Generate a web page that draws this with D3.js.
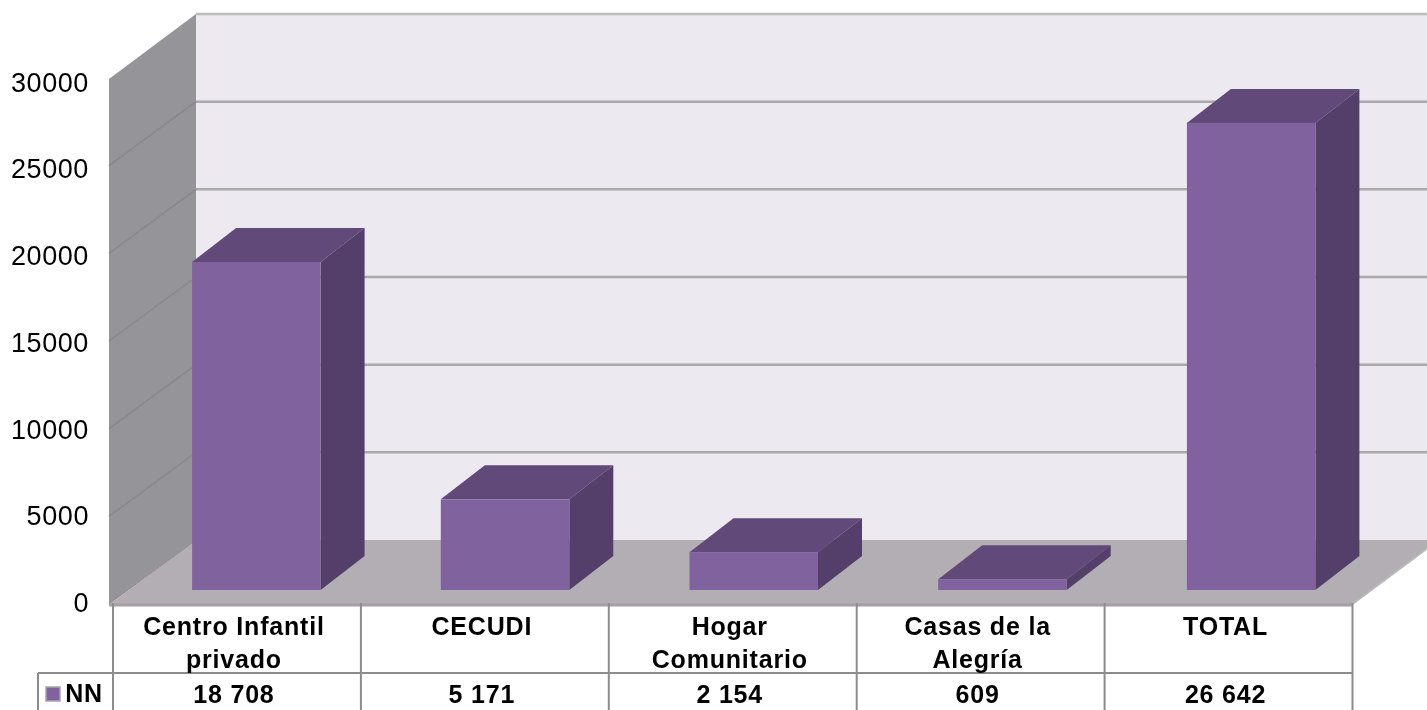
<!DOCTYPE html>
<html>
<head>
    <meta charset="utf-8">
    <script src="https://d3js.org/d3.v7.js"></script>
    <style>
        html, body{
            margin: 0;
            background: white;
            overflow: hidden;
        }
        svg{
            display: block;
            filter: blur(0.7px);
        }
        text{
            font-family: "Liberation Sans", Arial, sans-serif;
            fill: black;
        }
        .tick text{
            font-size: 27px;
            letter-spacing: 0.6px;
        }
        .cell{
            font-size: 25px;
            font-weight: bold;
            letter-spacing: 0.8px;
            text-anchor: middle;
        }
    </style>
</head>
<body>
    <div class="graph"></div>
    <script>
        const categories = [
            ['Centro Infantil', 'privado'],
            ['CECUDI'],
            ['Hogar', 'Comunitario'],
            ['Casas de la', 'Alegría'],
            ['TOTAL']
        ]
        const values = [18708, 5171, 2154, 609, 26642]
        const yTicks = [0, 5000, 10000, 15000, 20000, 25000, 30000]
        const seriesName = 'NN'

        const w = 1427
        const h = 710

        // front edge of the chart box, and how far the walls go back
        const left = 113
        const right = 1352.5
        const yFront = 604
        const depthX = 86
        const depthY = 64
        const wallTop = 78

        // bars stand a bit behind the front edge
        const barShiftX = 19
        const barBase = 590
        const barDepthX = 44
        const barDepthY = 34
        const barWidth = 128.5

        const xScale = d3.scaleBand()
                        .domain(d3.range(categories.length))
                        .range([left, right])

        // the bars step a little wider than the table cells
        const barScale = d3.scaleBand()
                        .domain(d3.range(categories.length))
                        .range([left, right + 4])

        const yScale = d3.scaleLinear()
                        .domain([0, 30000])
                        .range([yFront, wallTop])

        // the tick labels do not sit quite on the gridlines in the original
        const labelScale = d3.scaleLinear()
                        .domain([0, 30000])
                        .range([603, 82.5])

        const nf = d3.formatLocale({decimal: ',', thousands: ' ', grouping: [3], currency: ['', '']}).format(',')

        const svg = d3.select('.graph')
            .append('svg')
            .attr('width', w)
            .attr('height', h)

        const poly = pts => pts.map(p => p.join(',')).join(' ')

        // back wall
        svg.append('rect')
            .attr('x', left - 3 + depthX)
            .attr('y', yScale(30000) - depthY)
            .attr('width', w)
            .attr('height', yFront - yScale(30000))
            .style('fill', '#ECE9F1')

        // floor
        svg.append('polygon')
            .attr('points', poly([
                [left - 3, yFront], [right, yFront],
                [right + depthX, yFront - depthY], [left - 3 + depthX, yFront - depthY]
            ]))
            .style('fill', '#B3AEB3')

        // side wall
        svg.append('polygon')
            .attr('points', poly([
                [left - 4, yScale(30000) + 1], [left - 3 + depthX, yScale(30000) - depthY],
                [left - 3 + depthX, yFront - depthY], [left - 4, yFront]
            ]))
            .style('fill', '#959499')

        // gridlines on back wall and side wall
        svg.selectAll('.grid-back')
            .data(yTicks.slice(1))
            .enter()
            .append('line')
            .attr('class', 'grid-back')
            .attr('x1', left - 3 + depthX)
            .attr('x2', w)
            .attr('y1', d => yScale(d) - depthY)
            .attr('y2', d => yScale(d) - depthY)
            .style('stroke', d => d === 30000 ? '#BDBDBD' : '#A9A9A9')
            .style('stroke-width', 2.5)

        svg.selectAll('.grid-side')
            .data(yTicks.slice(1, -1))
            .enter()
            .append('line')
            .attr('class', 'grid-side')
            .attr('x1', left - 4)
            .attr('x2', left - 3 + depthX)
            .attr('y1', d => yScale(d))
            .attr('y2', d => yScale(d) - depthY)
            .style('stroke', '#88878C')
            .style('stroke-width', 1.5)

        // floor edges
        svg.append('line')
            .attr('x1', left - 4).attr('y1', yFront + 1)
            .attr('x2', right).attr('y2', yFront + 1)
            .style('stroke', '#A3A0A4')
            .style('stroke-width', 3)
        svg.append('line')
            .attr('x1', right).attr('y1', yFront)
            .attr('x2', right + depthX).attr('y2', yFront - depthY)
            .style('stroke', '#B8B8B8')
            .style('stroke-width', 2)
        svg.append('line')
            .attr('x1', left - 4).attr('y1', yFront)
            .attr('x2', left - 3 + depthX).attr('y2', yFront - depthY)
            .style('stroke', '#8A898D')
            .style('stroke-width', 1)

        // height of a value above the bar base
        const barHeight = d => yScale(0) - yScale(d)
        const barX = i => barScale(i) + barScale.bandwidth() / 2 - barWidth / 2 + barShiftX

        const bars = svg.selectAll('.bar')
            .data(values)
            .enter()
            .append('g')
            .attr('class', 'bar')

        // top face
        bars.append('polygon')
            .attr('points', (d, i) => {
                const x = barX(i)
                const y = barBase - barHeight(d)
                return poly([[x, y], [x + barWidth, y], [x + barWidth + barDepthX, y - barDepthY], [x + barDepthX, y - barDepthY]])
            })
            .style('fill', '#614A79')

        // side face
        bars.append('polygon')
            .attr('points', (d, i) => {
                const x = barX(i) + barWidth
                const y = barBase - barHeight(d)
                return poly([[x, y], [x + barDepthX, y - barDepthY], [x + barDepthX, barBase - barDepthY], [x, barBase]])
            })
            .style('fill', '#533F69')

        // front face
        bars.append('rect')
            .attr('x', (d, i) => barX(i))
            .attr('y', d => barBase - barHeight(d))
            .attr('width', barWidth)
            .attr('height', d => barHeight(d))
            .style('fill', '#80629E')

        // value axis, labels only
        const yAxis = d3.axisLeft(labelScale)
                        .tickValues(yTicks)
                        .tickSize(0)
                        .tickPadding(0)
                        .tickFormat(d3.format('d'))

        svg.append('g')
            .attr('transform', 'translate(89,0)')
            .call(yAxis)
            .call(g => g.select('.domain').remove())

        // data table under the chart
        const tableY = 673
        const legendLeft = 38
        const cellEdges = d3.range(categories.length + 1).map(i => i < categories.length ? xScale(i) : right)

        svg.selectAll('.cell-line')
            .data(cellEdges)
            .enter()
            .append('line')
            .attr('class', 'cell-line')
            .attr('x1', d => d)
            .attr('x2', d => d)
            .attr('y1', yFront - 1)
            .attr('y2', h)
            .style('stroke', '#8C8C8C')
            .style('stroke-width', 2)

        svg.append('line')
            .attr('x1', legendLeft).attr('y1', tableY)
            .attr('x2', right).attr('y2', tableY)
            .style('stroke', '#8C8C8C')
            .style('stroke-width', 2)

        svg.append('line')
            .attr('x1', legendLeft).attr('y1', tableY)
            .attr('x2', legendLeft).attr('y2', h)
            .style('stroke', '#8C8C8C')
            .style('stroke-width', 2)

        const cellX = i => xScale(i) + xScale.bandwidth() / 2 - 3

        categories.forEach((lines, i) => {
            lines.forEach((line, j) => {
                svg.append('text')
                    .attr('class', 'cell')
                    .attr('x', cellX(i))
                    .attr('y', 635 + j * 33)
                    .text(line)
            })
        })

        svg.selectAll('.value')
            .data(values)
            .enter()
            .append('text')
            .attr('class', 'cell value')
            .attr('x', (d, i) => cellX(i))
            .attr('y', 703)
            .text(d => nf(d))

        // legend key
        svg.append('rect')
            .attr('x', 46)
            .attr('y', 687)
            .attr('width', 14)
            .attr('height', 14)
            .style('fill', '#80629E')
            .style('stroke', '#A9A4B0')
            .style('stroke-width', 1.5)

        svg.append('text')
            .attr('class', 'cell')
            .attr('x', 84)
            .attr('y', 702)
            .text(seriesName)
    </script>
</body>
</html>
